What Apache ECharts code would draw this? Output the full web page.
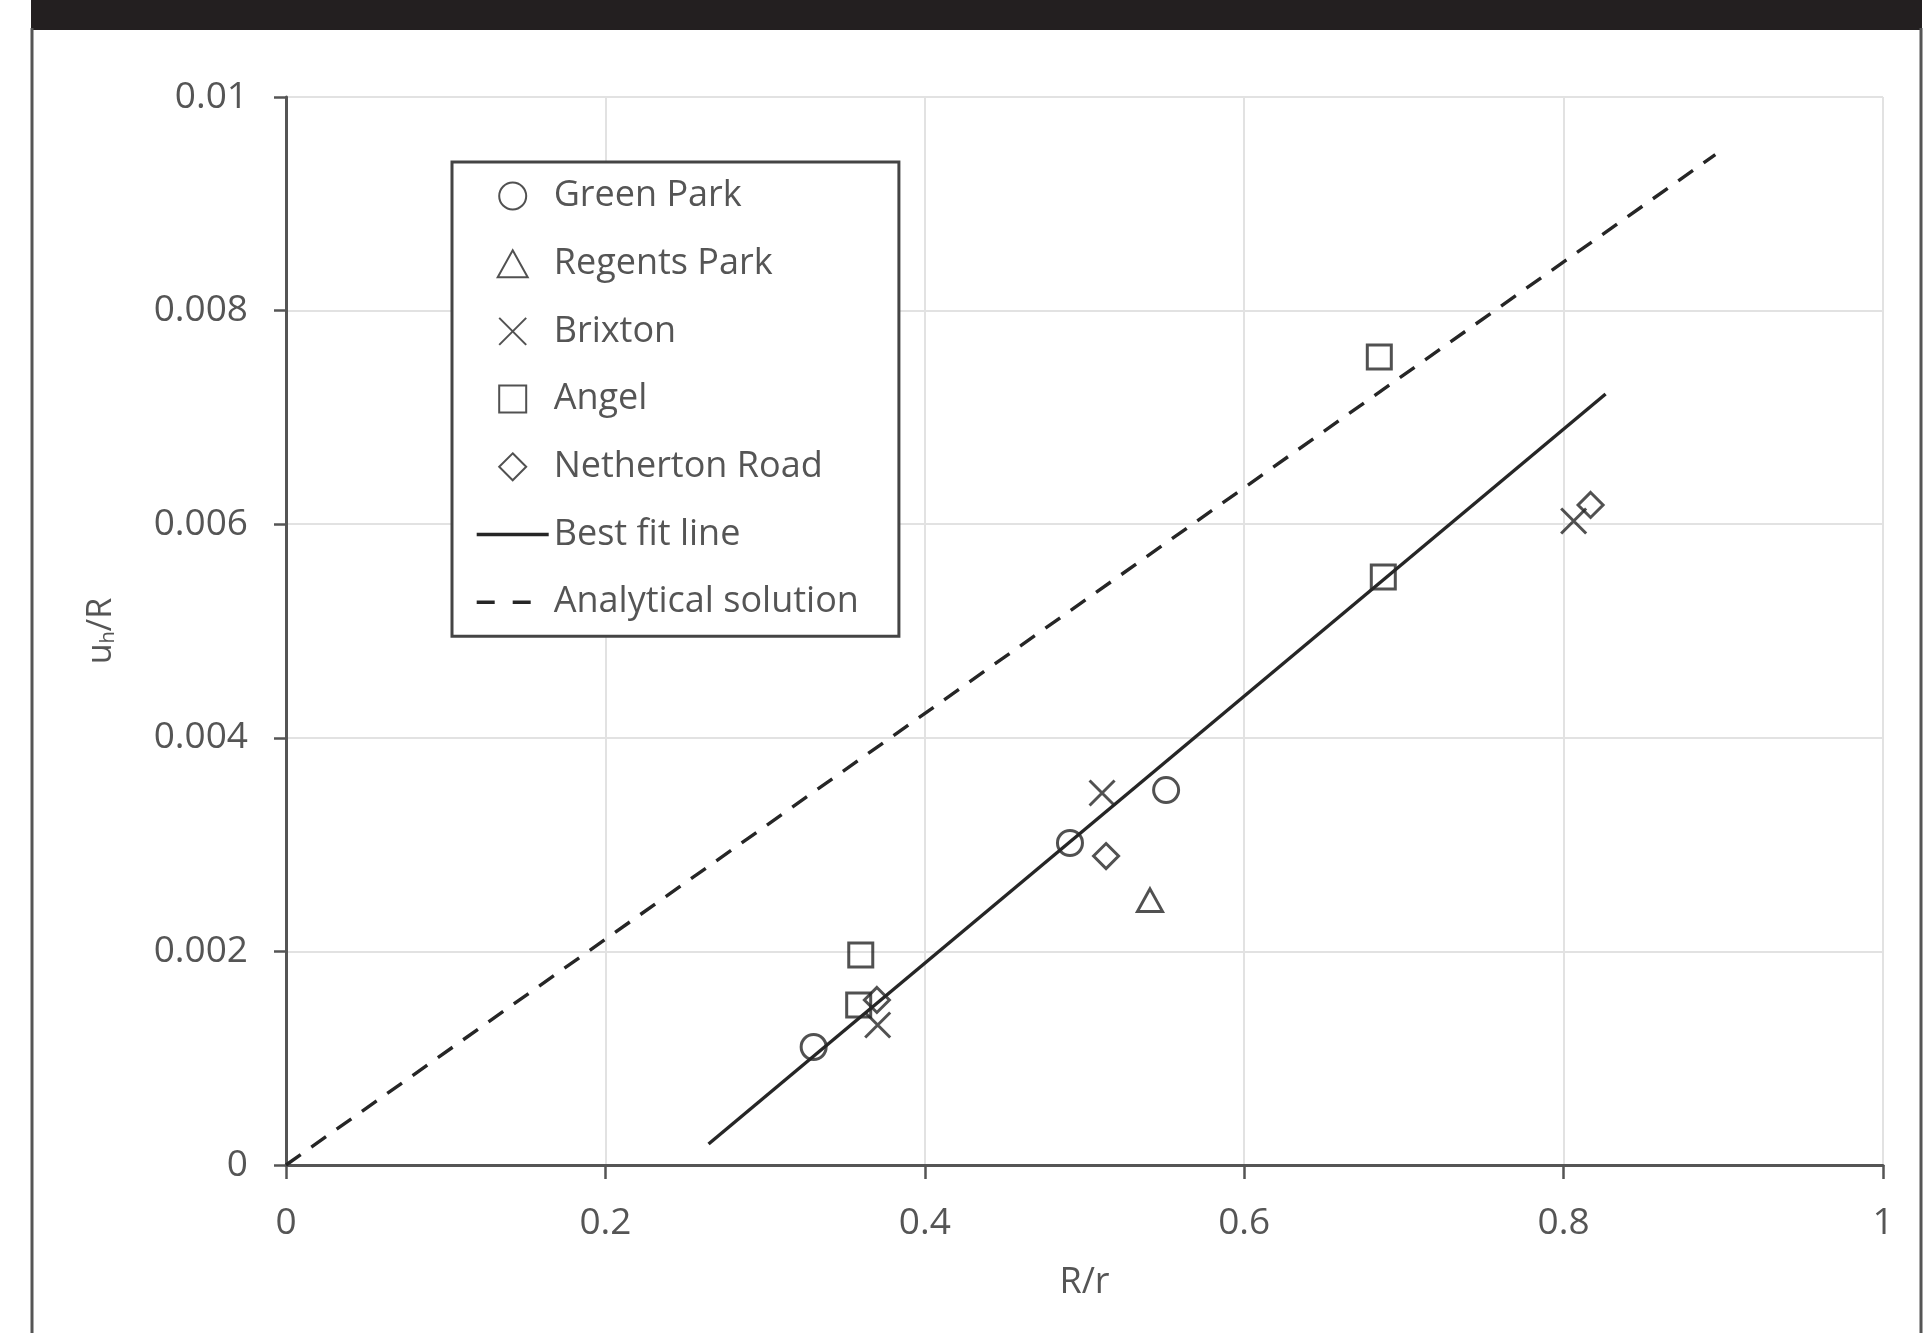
<!DOCTYPE html>
<html>
<head>
<meta charset="utf-8">
<script src="https://cdn.jsdelivr.net/npm/echarts@6/dist/echarts.min.js"></script>
<style>
html,body{margin:0;padding:0;background:#fff;}
#c{width:1931px;height:1333px;}
</style>
</head>
<body>
<div id="c"></div>
<script>
// ---- data ----
const xTicks = [0, 0.2, 0.4, 0.6, 0.8, 1];
const xTickLabels = ['0', '0.2', '0.4', '0.6', '0.8', '1'];
const yTicks = [0, 0.002, 0.004, 0.006, 0.008, 0.01];
const yTickLabels = ['0', '0.002', '0.004', '0.006', '0.008', '0.01'];

const greenPark = [[0.3304, 0.001105], [0.4909, 0.003015], [0.5511, 0.003511]];
const regentsPark = [[0.541, 0.00248]];
const brixton = [[0.3705, 0.001311], [0.511, 0.003483], [0.8063, 0.00603]];
const angel = [[0.3599, 0.001966], [0.3586, 0.001498], [0.6846, 0.007566], [0.6871, 0.005506]];
const netherton = [[0.370, 0.001545], [0.5135, 0.002893], [0.8169, 0.00618]];
const bestFit = [[0.2646, 0.000197], [0.8263, 0.007219]];
const analytical = [[0, 0], [0.895, 0.00946]];

const seriesNames = ['Green Park', 'Regents Park', 'Brixton', 'Angel', 'Netherton Road', 'Best fit line', 'Analytical solution'];

// ---- styling ----
const FONT = 'Open Sans';
const TXT = '#555555';
const INK = '#262626';
const markerStyle = {color: 'transparent', borderColor: INK, borderWidth: 3};

const SYM_TRIANGLE = 'path://M5,0L10,9L0,9Z';
const SYM_SQUARE = 'path://M0,0L10,0L10,10L0,10Z';
const SYM_DIAMOND = 'path://M5,0L10,5L5,10L0,5Z';
const SYM_CROSS = 'path://M0,0L10,10M10,0L0,10';

function labelFor(ticks, labels) {
  return function (v) {
    for (let i = 0; i < ticks.length; i++) {
      if (Math.abs(ticks[i] - v) < 1e-9) return labels[i];
    }
    return '';
  };
}

const chart = echarts.init(document.getElementById('c'), null, {renderer: 'canvas'});

function scatter(name, data, symbol, size) {
  return {
    name: name, type: 'scatter', data: data, symbol: symbol, symbolSize: size,
    symbolKeepAspect: true,
    itemStyle: markerStyle, z: 5
  };
}

const legendData = seriesNames.map(function (n, i) {
  if (i === 6) return {name: n, lineStyle: {type: [18, 18], width: 3.4}};
  if (i === 5) return {name: n, lineStyle: {width: 3.4}};
  return {name: n};
});

const option = {
  backgroundColor: '#ffffff',
  animation: false,
  textStyle: {fontFamily: FONT},
  grid: {left: 286, right: 48, top: 97, bottom: 168, outerBoundsMode: 'none'},
  xAxis: {
    type: 'value', min: 0, max: 1, interval: 0.2,
    name: 'R/r', nameLocation: 'middle', nameGap: 100,
    nameTextStyle: {color: TXT, fontSize: 36, fontFamily: FONT},
    axisLine: {show: true, onZero: false, lineStyle: {color: '#555', width: 3}},
    axisTick: {show: true, length: 14, lineStyle: {color: '#555', width: 2.5}},
    axisLabel: {color: TXT, fontSize: 37, margin: 40, fontFamily: FONT,
      formatter: labelFor(xTicks, xTickLabels)},
    splitLine: {show: true, lineStyle: {color: '#e2e2e2', width: 2}}
  },
  yAxis: {
    type: 'value', min: 0, max: 0.01, interval: 0.002,
    name: '{a|u}{b|h}{a|/R}', nameLocation: 'middle', nameGap: 168,
    nameTextStyle: {
      color: TXT, fontFamily: FONT,
      rich: {
        a: {fontSize: 34, color: TXT, fontFamily: FONT},
        b: {fontSize: 20, color: TXT, fontFamily: FONT, verticalAlign: 'bottom', padding: [14, 0, 0, 0]}
      }
    },
    axisLine: {show: true, onZero: false, lineStyle: {color: '#555', width: 3}},
    axisTick: {show: true, length: 12, lineStyle: {color: '#555', width: 2.5}},
    axisLabel: {color: TXT, fontSize: 37, margin: 38, fontFamily: FONT,
      formatter: labelFor(yTicks, yTickLabels)},
    splitLine: {show: true, lineStyle: {color: '#e2e2e2', width: 2}}
  },
  legend: {
    orient: 'vertical', left: 452, top: 162,
    data: legendData,
    itemWidth: 72, itemHeight: 27, itemGap: 27.7,
    padding: [14, 40, 14, 23],
    borderColor: '#444', borderWidth: 3,
    backgroundColor: '#fff',
    lineStyle: {width: 3.4},
    textStyle: {color: TXT, fontSize: 36, fontFamily: FONT, lineHeight: 40},
    selectedMode: false
  },
  series: [
    scatter(seriesNames[0], greenPark, 'circle', 25),
    scatter(seriesNames[1], regentsPark, SYM_TRIANGLE, 25),
    scatter(seriesNames[2], brixton, SYM_CROSS, 25),
    scatter(seriesNames[3], angel, SYM_SQUARE, 24),
    scatter(seriesNames[4], netherton, SYM_DIAMOND, 25),
    {
      name: seriesNames[5], type: 'line', data: bestFit, symbol: 'none',
      lineStyle: {color: INK, width: 3.4},
      itemStyle: {color: 'transparent', borderColor: 'transparent', borderWidth: 0}, z: 3
    },
    {
      name: seriesNames[6], type: 'line', data: analytical, symbol: 'none',
      lineStyle: {color: INK, width: 3.4, type: [18, 13]},
      itemStyle: {color: 'transparent', borderColor: 'transparent', borderWidth: 0}, z: 3
    }
  ],
  graphic: [
    {type: 'rect', left: 31, top: 0, shape: {width: 1891, height: 30}, style: {fill: '#231f20'}, z: 100},
    {type: 'line', shape: {x1: 32, y1: 28, x2: 32, y2: 1333}, style: {stroke: '#555', lineWidth: 3}, z: 100},
    {type: 'line', shape: {x1: 1921, y1: 28, x2: 1921, y2: 1333}, style: {stroke: '#555', lineWidth: 3}, z: 100}
  ]
};
chart.setOption(option);
</script>
</body>
</html>
